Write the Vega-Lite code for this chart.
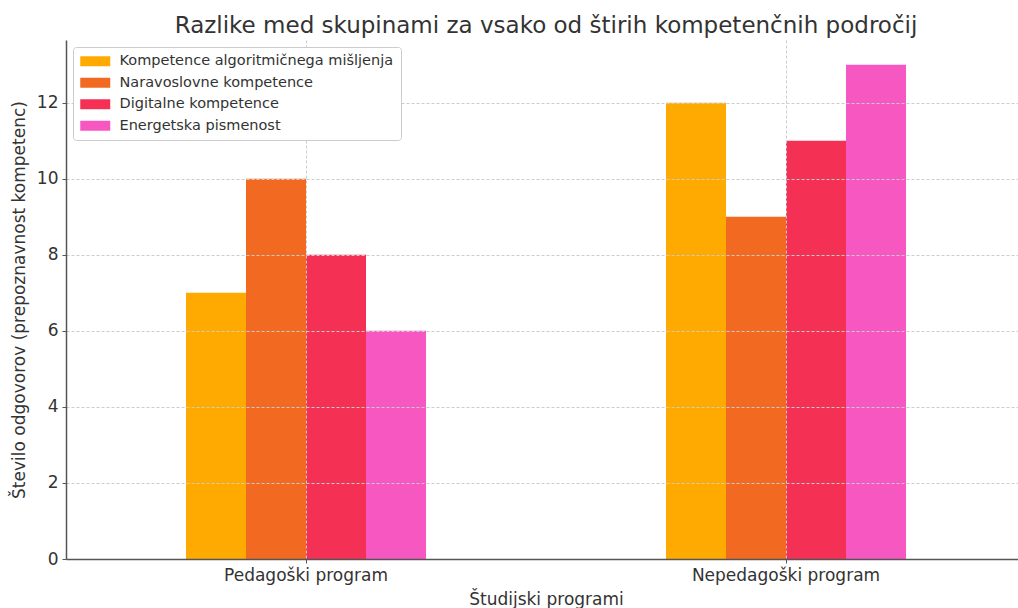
{
  "$schema": "https://vega.github.io/schema/vega-lite/v6.json",
  "width": 952,
  "height": 519,
  "autosize": {"type": "none"},
  "padding": {"left": 66, "top": 40, "right": 0, "bottom": 49},
  "background": "white",
  "title": {
    "text": "Razlike med skupinami za vsako od štirih kompetenčnih področij",
    "fontSize": 23,
    "fontWeight": "normal",
    "color": "#333333",
    "font": "DejaVu Sans",
    "offset": 2,
    "dx": 4
  },
  "data": {
    "values": [
      {"program": "Pedagoški program", "kompetenca": "Kompetence algoritmičnega mišljenja", "odgovori": 7},
      {"program": "Pedagoški program", "kompetenca": "Naravoslovne kompetence", "odgovori": 10},
      {"program": "Pedagoški program", "kompetenca": "Digitalne kompetence", "odgovori": 8},
      {"program": "Pedagoški program", "kompetenca": "Energetska pismenost", "odgovori": 6},
      {"program": "Nepedagoški program", "kompetenca": "Kompetence algoritmičnega mišljenja", "odgovori": 12},
      {"program": "Nepedagoški program", "kompetenca": "Naravoslovne kompetence", "odgovori": 9},
      {"program": "Nepedagoški program", "kompetenca": "Digitalne kompetence", "odgovori": 11},
      {"program": "Nepedagoški program", "kompetenca": "Energetska pismenost", "odgovori": 13}
    ]
  },
  "mark": {"type": "bar"},
  "encoding": {
    "x": {
      "field": "program",
      "type": "nominal",
      "sort": ["Pedagoški program", "Nepedagoški program"],
      "scale": {"paddingInner": 0.5, "paddingOuter": 0.25, "range": [0, 960]},
      "axis": {
        "title": "Študijski programi",
        "titleX": 480,
        "labelAngle": 0,
        "labelLimit": 0,
        "bandPosition": 0.5,
        "grid": true,
        "zindex": 1,
        "labelPadding": 4,
        "titlePadding": 8
      }
    },
    "xOffset": {
      "field": "kompetenca",
      "type": "nominal",
      "sort": ["Kompetence algoritmičnega mišljenja", "Naravoslovne kompetence", "Digitalne kompetence", "Energetska pismenost"],
      "scale": {"paddingInner": 0, "paddingOuter": 0}
    },
    "y": {
      "field": "odgovori",
      "type": "quantitative",
      "scale": {"domain": [0, 13.65], "nice": false},
      "axis": {
        "title": "Število odgovorov (prepoznavnost kompetenc)",
        "values": [0, 2, 4, 6, 8, 10, 12],
        "grid": true,
        "zindex": 1,
        "labelPadding": 4,
        "titlePadding": 8
      }
    },
    "color": {
      "field": "kompetenca",
      "type": "nominal",
      "sort": ["Kompetence algoritmičnega mišljenja", "Naravoslovne kompetence", "Digitalne kompetence", "Energetska pismenost"],
      "scale": {
        "domain": ["Kompetence algoritmičnega mišljenja", "Naravoslovne kompetence", "Digitalne kompetence", "Energetska pismenost"],
        "range": ["#FFAA00", "#F26A21", "#F43054", "#F757C1"]
      },
      "legend": {
        "title": null,
        "orient": "top-left",
        "offset": 7,
        "padding": 7,
        "zindex": 2,
        "strokeColor": "#cccccc",
        "fillColor": "rgba(255,255,255,0.95)",
        "cornerRadius": 3,
        "labelFontSize": 14.5,
        "labelColor": "#333333",
        "labelFont": "DejaVu Sans",
        "labelLimit": 0,
        "symbolType": "M-1.4,-1H4.6V1H-1.4Z",
        "symbolSize": 100,
        "symbolStrokeWidth": 0,
        "symbolOpacity": 1,
        "labelOffset": 25,
        "rowPadding": 6.5
      }
    }
  },
  "config": {
    "font": "DejaVu Sans",
    "view": {"stroke": null},
    "axis": {
      "labelFontSize": 17,
      "titleFontSize": 17,
      "titleFontWeight": "normal",
      "labelColor": "#333333",
      "titleColor": "#333333",
      "labelFont": "DejaVu Sans",
      "titleFont": "DejaVu Sans",
      "domainColor": "#555555",
      "domainWidth": 1.5,
      "tickColor": "#555555",
      "tickSize": 4,
      "gridColor": "#cccccc",
      "gridDash": [3, 2],
      "gridWidth": 1
    }
  }
}
